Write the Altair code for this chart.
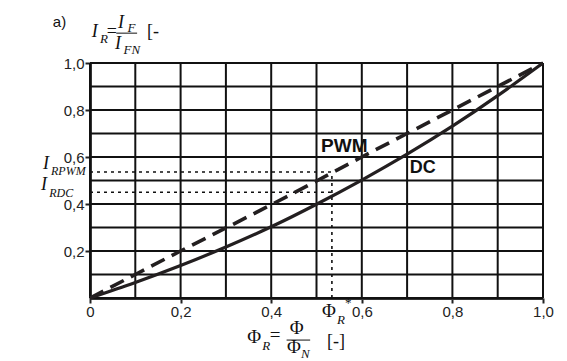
import altair as alt
import pandas as pd

# ---- data ----
phi = [0.0, 0.1, 0.2, 0.3, 0.4, 0.5, 0.6, 0.7, 0.8, 0.9, 1.0]
i_dc = [0.0, 0.066, 0.138, 0.217, 0.303, 0.399, 0.502, 0.612, 0.731, 0.861, 1.0]
i_pwm = [0.0, 0.1, 0.2, 0.298, 0.397, 0.498, 0.6, 0.7, 0.8, 0.9, 1.0]

grid_vals = [0.0, 0.1, 0.2, 0.3, 0.4, 0.5, 0.6, 0.7, 0.8, 0.9, 1.0]
x_ticks = [0.0, 0.2, 0.4, 0.6, 0.8, 1.0]
y_ticks = [0.2, 0.4, 0.6, 0.8, 1.0]

phi_star = 0.534
i_r_pwm = 0.536
i_r_dc = 0.45

# annotation texts (text, x, y, size) in data units
serif_italic = [
    ("I", 0.004, 1.111, 18), ("R", 0.022, 1.085, 13),
    ("I", 0.062, 1.147, 18), ("F", 0.083, 1.132, 13),
    ("I", 0.055, 1.060, 18), ("FN", 0.074, 1.038, 13),
    ("I", -0.104, 0.549, 18), ("RPWM", -0.086, 0.523, 12),
    ("I", -0.108, 0.460, 18), ("RDC", -0.090, 0.430, 12),
    ("R", 0.545, -0.111, 13),
    ("R", 0.380, -0.220, 13),
    ("N", 0.466, -0.255, 13),
]
serif_normal = [
    ("=", 0.037, 1.110, 18), ("[-", 0.126, 1.111, 18),
    ("Φ", 0.512, -0.081, 19), ("*", 0.563, -0.040, 13),
    ("Φ", 0.347, -0.190, 19), ("=", 0.397, -0.183, 19),
    ("Φ", 0.441, -0.152, 19), ("Φ", 0.435, -0.234, 19),
    ("[-]", 0.523, -0.209, 18),
]
sans_bold = [("PWM", 0.510, 0.621, 19), ("DC", 0.706, 0.532, 18)]
sans_normal = [("a)", -0.082, 1.153, 15)]

# fraction bars (x, x2, y)
bars = [(0.058, 0.104, 1.127), (0.434, 0.486, -0.179)]

cols = ["t", "x", "y", "s"]
XS = alt.Scale(domain=[0, 1], nice=False, zero=False)
YS = alt.Scale(domain=[0, 1], nice=False, zero=False)

x_axis = alt.Axis(
    values=x_ticks, title=None, grid=False,
    labelExpr="datum.value == 0 ? '0' : replace(format(datum.value, '.1f'), '.', ',')",
    labelFont="Liberation Sans", labelFontSize=15, labelColor="#222",
    tickSize=5, tickWidth=2, tickColor="#222", labelPadding=1,
    domainColor="#333", domainWidth=3, labelFlush=False,
)
y_axis = alt.Axis(
    values=y_ticks, title=None, grid=False,
    labelExpr="replace(format(datum.value, '.1f'), '.', ',')",
    labelFont="Liberation Sans", labelFontSize=15, labelColor="#222",
    tickSize=5, tickWidth=2, tickColor="#222", labelPadding=1,
    domainColor="#333", domainWidth=3, labelFlush=False,
)

gdf = pd.DataFrame({"v": grid_vals})
vgrid = alt.Chart(gdf).mark_rule(color="#111", strokeWidth=2).encode(
    x=alt.X("v:Q", scale=XS, axis=x_axis), y=alt.datum(0, scale=YS), y2=alt.datum(1)
)
hgrid = alt.Chart(gdf).mark_rule(color="#111", strokeWidth=2).encode(
    y=alt.Y("v:Q", scale=YS, axis=y_axis), x=alt.datum(0, scale=XS), x2=alt.datum(1)
)

dot_h = pd.DataFrame({"x0": [0.0, 0.0], "x1": [phi_star, phi_star], "y": [i_r_pwm, i_r_dc]})
dotted_h = alt.Chart(dot_h).mark_rule(color="#111", strokeWidth=1.6, strokeDash=[3, 4]).encode(
    x=alt.X("x0:Q", scale=XS), x2="x1:Q", y=alt.Y("y:Q", scale=YS)
)
dot_v = pd.DataFrame({"x": [phi_star], "y0": [0.0], "y1": [i_r_pwm]})
dotted_v = alt.Chart(dot_v).mark_rule(color="#111", strokeWidth=1.6, strokeDash=[3, 4]).encode(
    x=alt.X("x:Q", scale=XS), y=alt.Y("y0:Q", scale=YS), y2="y1:Q"
)

cdf = pd.DataFrame({"phi": phi, "dc": i_dc, "pwm": i_pwm})
dc_line = alt.Chart(cdf).mark_line(color="#231f20", strokeWidth=3.2, interpolate="natural").encode(
    x=alt.X("phi:Q", scale=XS), y=alt.Y("dc:Q", scale=YS)
)
pwm_line = alt.Chart(cdf).mark_line(color="#231f20", strokeWidth=3.6, strokeDash=[15, 8],
                                    interpolate="natural").encode(
    x=alt.X("phi:Q", scale=XS), y=alt.Y("pwm:Q", scale=YS)
)

bdf = pd.DataFrame(bars, columns=["x", "x2", "y"])
frac = alt.Chart(bdf).mark_rule(color="#111", strokeWidth=1).encode(
    x=alt.X("x:Q", scale=XS), x2="x2:Q", y=alt.Y("y:Q", scale=YS)
)


def texts(rows, font, style="normal", weight="normal", color="#111"):
    df = pd.DataFrame(rows, columns=cols)
    return alt.Chart(df).mark_text(
        font=font, fontStyle=style, fontWeight=weight, align="left",
        baseline="alphabetic", color=color,
    ).encode(
        x=alt.X("x:Q", scale=XS), y=alt.Y("y:Q", scale=YS),
        text="t:N", size=alt.Size("s:Q", scale=None, legend=None),
    )


chart = alt.layer(
    vgrid, hgrid, dotted_h, dotted_v, pwm_line, dc_line, frac,
    texts(serif_italic, "Liberation Serif", style="italic"),
    texts(serif_normal, "Liberation Serif"),
    texts(sans_bold, "Liberation Sans", weight="bold"),
    texts(sans_normal, "Liberation Sans"),
).properties(
    width=453, height=235,
    autosize=alt.AutoSizeParams(type="none"),
    padding={"left": 82, "top": 55, "right": 16, "bottom": 62},
).configure_view(strokeOpacity=0)

chart.save("out.html", embed_options={"renderer": "svg", "actions": False})
